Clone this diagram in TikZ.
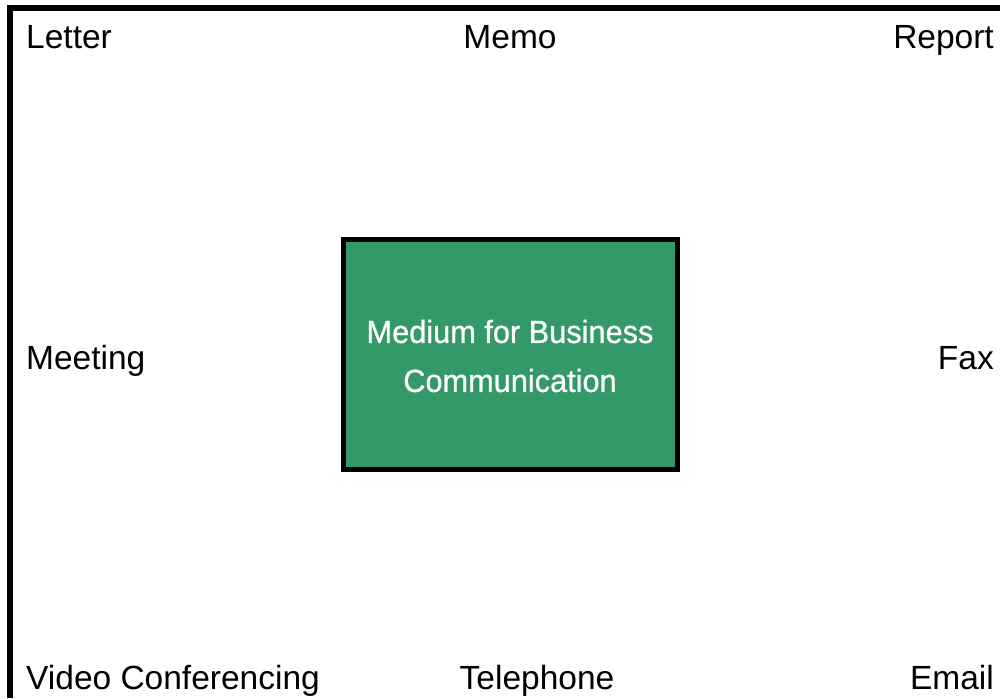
\documentclass[tikz,border=0pt]{standalone}
\usepackage{fontspec}
\setmainfont{Liberation Sans}
\newfontfamily\boxfont[FakeStretch=0.96,FakeBold=0.8]{Liberation Sans}
\definecolor{mediumgreen}{HTML}{339966}
\begin{document}
\begin{tikzpicture}[x=1pt,y=-1pt,
  label text/.style={inner sep=0pt, font=\fontsize{33.5}{40}\selectfont, text=black},
  centre box/.style={draw=black, line width=5pt, fill=mediumgreen, inner sep=0pt,
    minimum width=334pt, minimum height=230pt},
  centre text/.style={inner sep=0pt, align=center, text=white,
    font=\boxfont\fontsize{32}{49}\selectfont}]
  \useasboundingbox (0,0) rectangle (1000,698);
  % frame along the top and left edges
  \draw[line width=6pt, line join=miter] (1000,8) -- (10,8) -- (10,698);
  % central box
  \node[centre box] (hub) at (510.5,354.5) {};
  \node[centre text] (hubtext) at (510,356) {Medium for Business\\Communication};
  % surrounding media
  \node[label text, anchor=base west] (letter) at (26,49) {Letter};
  \node[label text, anchor=base] (memo) at (510,49) {Memo};
  \node[label text, anchor=base east] (report) at (994,49) {Report};
  \node[label text, anchor=base west] (meeting) at (26,369) {Meeting};
  \node[label text, anchor=base east] (fax) at (994,369) {Fax};
  \node[label text, anchor=base west] (video) at (26,689) {Video Conferencing};
  \node[label text, anchor=base] (phone) at (537,689) {Telephone};
  \node[label text, anchor=base east] (email) at (994,689) {Email};
\end{tikzpicture}
\end{document}
